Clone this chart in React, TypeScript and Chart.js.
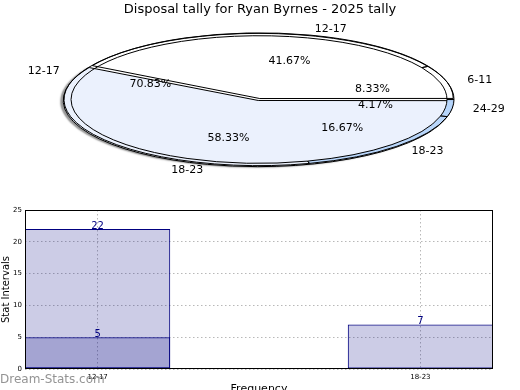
import React, { useEffect, useRef } from "react";
import { Chart, registerables } from "chart.js";
Chart.register(...registerables);

const TITLE = "Disposal tally for Ryan Byrnes - 2025 tally";
// Inner pie (matplotlib order, counter-clockwise from 3 o'clock)
const pieACategories = ["12-17", "18-23"];
const pieAValues = [5, 7];
// Overlay pie
const pieBCategories = ["6-11", "12-17", "18-23", "24-29"];
const pieBValues = [2, 17, 4, 1];
// Bar chart
const barCategories = ["12-17", "18-23"];
const barSeriesA: (number | null)[] = [22, 7];
const barSeriesB: (number | null)[] = [5, null];
const yTickValues = [0, 5, 10, 15, 20, 25];
const X_AXIS_TITLE = "Frequency";
const Y_AXIS_TITLE = "Stat Intervals";
const WATERMARK = "Dream-Stats.com";

const FONT = "'DejaVu Sans', sans-serif";
const RX = 196;
const RY = 66.5;

function ellipsePlugin(shadow: boolean) {
  return {
    id: "ellipse",
    beforeDatasetsDraw(chart: any) {
      const ctx = chart.ctx;
      const el = chart.getDatasetMeta(0).data[0];
      const cx = el.x, cy = el.y;
      ctx.save();
      const base = ctx.getTransform();
      ctx.translate(cx, cy);
      ctx.scale(1, RY / RX);
      ctx.translate(-cx, -cy);
      const proto = CanvasRenderingContext2D.prototype;
      let fills = 0;
      ctx.fill = function (...args: any[]) {
        if (shadow && fills === 0) {
          this.save();
          this.shadowColor = "rgba(0,0,0,0.42)";
          this.shadowBlur = 1.5;
          this.shadowOffsetX = -3;
          this.shadowOffsetY = 1;
          (proto.fill as any).apply(this, args);
          this.restore();
        } else {
          (proto.fill as any).apply(this, args);
        }
        fills++;
      };
      ctx.stroke = function (...args: any[]) {
        const t = this.getTransform();
        this.setTransform(base);
        (proto.stroke as any).apply(this, args);
        this.setTransform(t);
      };
    },
    afterDatasetsDraw(chart: any) {
      const ctx = chart.ctx;
      delete ctx.stroke;
      delete ctx.fill;
      ctx.restore();
    },
  };
}

function pieLabelPlugin(drawTitle: boolean) {
  return {
    id: "pieLabels",
    afterDraw(chart: any) {
      const ctx = chart.ctx;
      const meta = chart.getDatasetMeta(0);
      const vals: number[] = chart.data.datasets[0].data;
      const labels: string[] = chart.data.labels;
      const total = vals.reduce((a, b) => a + b, 0);
      ctx.save();
      ctx.fillStyle = "#000";
      ctx.font = `11px ${FONT}`;
      ctx.textBaseline = "middle";
      meta.data.forEach((arc: any, i: number) => {
        const mid = (arc.startAngle + arc.endAngle) / 2;
        const c = Math.cos(mid), s = Math.sin(mid);
        ctx.textAlign = c >= 0 ? "left" : "right";
        ctx.fillText(labels[i], arc.x + c * RX * 1.1, arc.y + s * RY * 1.1);
        ctx.textAlign = "center";
        ctx.fillText(((vals[i] / total) * 100).toFixed(2) + "%", arc.x + c * RX * 0.6, arc.y + s * RY * 0.6);
      });
      if (drawTitle) {
        ctx.font = `13px ${FONT}`;
        ctx.textAlign = "center";
        ctx.fillText(TITLE, 260, 10);
      }
      ctx.restore();
    },
  };
}

const barExtras = {
  id: "barExtras",
  afterDatasetsDraw(chart: any) {
    const ctx = chart.ctx;
    const a = chart.chartArea;
    ctx.save();
    ctx.strokeStyle = "#000";
    ctx.lineWidth = 1;
    ctx.strokeRect(a.left + 0.5, a.top + 0.5, a.right - a.left - 1, a.bottom - a.top - 1);
    ctx.fillStyle = "#000080";
    ctx.font = `10px ${FONT}`;
    ctx.textAlign = "center";
    ctx.textBaseline = "alphabetic";
    chart.data.datasets.forEach((ds: any, di: number) => {
      const meta = chart.getDatasetMeta(di);
      meta.data.forEach((bar: any, i: number) => {
        const v = ds.data[i].y;
        ctx.fillText(String(v), bar.x, bar.y);
      });
    });
    ctx.restore();
  },
  afterDraw(chart: any) {
    const ctx = chart.ctx;
    ctx.save();
    ctx.fillStyle = "rgba(120,120,120,0.8)";
    ctx.font = `12px ${FONT}`;
    ctx.textAlign = "left";
    ctx.textBaseline = "middle";
    ctx.fillText(WATERMARK, 0, 190);
    ctx.restore();
  },
};

function pieConfig(
  type: string,
  cats: string[],
  vals: number[],
  colors: string[],
  borders: number[],
  radius: number,
  cutout: string | number,
  offset: number,
  shadow: boolean,
  title: boolean
): any {
  const rc = [...cats].reverse();
  const rv = [...vals].reverse();
  return {
    type,
    data: {
      labels: rc,
      datasets: [
        {
          data: rv,
          backgroundColor: [...colors].reverse(),
          borderColor: "#000",
          borderWidth: [...borders].reverse(),
          offset,
        },
      ],
    },
    options: {
      responsive: false,
      animation: false,
      events: [],
      rotation: 90,
      radius,
      cutout,
      layout: { padding: { left: 0, right: 2, top: 9, bottom: 0 } },
      plugins: { legend: { display: false }, tooltip: { enabled: false } },
    },
    plugins: [ellipsePlugin(shadow), pieLabelPlugin(title)],
  };
}

export default function App() {
  const pieARef = useRef<HTMLCanvasElement>(null);
  const pieBRef = useRef<HTMLCanvasElement>(null);
  const barRef = useRef<HTMLCanvasElement>(null);

  useEffect(() => {
    const charts: Chart[] = [];
    charts.push(
      new Chart(
        pieARef.current!,
        pieConfig("pie", pieACategories, pieAValues, ["#ffffff", "#ebf1fd"], [1, 1], 192, 0, 12, true, true)
      )
    );
    charts.push(
      new Chart(
        pieBRef.current!,
        pieConfig(
          "doughnut",
          pieBCategories,
          pieBValues,
          ["rgba(0,0,0,0)", "rgba(0,0,0,0)", "rgba(179,211,251,0.9)", "rgba(179,211,251,0.95)"],
          [1, 1, 1, 1],
          195,
          "96.4%",
          0,
          false,
          false
        )
      )
    );

    const mk = (arr: (number | null)[]) =>
      barCategories
        .map((_, i) => (arr[i] == null ? null : { x: i, y: arr[i] }))
        .filter((p) => p !== null);
    const barStyle = {
      backgroundColor: "rgba(0,0,128,0.2)",
      borderColor: "#000080",
      borderWidth: 1,
      borderSkipped: false,
      grouped: false,
      categoryPercentage: 1,
      barPercentage: 0.45,
    };
    charts.push(
      new Chart(barRef.current!, {
        type: "bar",
        data: {
          datasets: [
            { data: mk(barSeriesA), ...barStyle } as any,
            { data: mk(barSeriesB), ...barStyle } as any,
          ],
        },
        options: {
          responsive: false,
          animation: false,
          events: [],
          layout: { padding: { left: 0, right: 27, top: 20, bottom: 0 } },
          plugins: { legend: { display: false }, tooltip: { enabled: false } },
          scales: {
            x: {
              type: "linear",
              offset: false,
              min: -0.225,
              max: 1.225,
              afterBuildTicks: (s: any) => {
                s.ticks = barCategories.map((_, i) => ({ value: i }));
              },
              afterFit: (s: any) => {
                s.height = 31;
              },
              ticks: {
                callback: (v: any) => barCategories[v] ?? "",
                font: { family: FONT, size: 7 },
                color: "#000",
                padding: 4,
                maxRotation: 0,
                autoSkip: false,
              },
              grid: { color: "#b8b8b8", drawTicks: false, offset: false },
              border: { display: false, dash: [1.5, 2.5] },
              title: { display: true, text: X_AXIS_TITLE, font: { family: FONT, size: 11 }, color: "#000", padding: 4 },
            },
            y: {
              min: 0,
              max: 25,
              afterBuildTicks: (s: any) => {
                s.ticks = yTickValues.map((v) => ({ value: v }));
              },
              afterFit: (s: any) => {
                s.width = 25;
              },
              ticks: { font: { family: FONT, size: 7 }, color: "#000", padding: 3 },
              grid: { color: "#b8b8b8", drawTicks: false },
              border: { display: false, dash: [1.5, 2.5] },
              title: { display: true, text: Y_AXIS_TITLE, font: { family: FONT, size: 10 }, color: "#000", padding: 0 },
            },
          },
        } as any,
        plugins: [barExtras],
      })
    );
    return () => charts.forEach((c) => c.destroy());
  }, []);

  return (
    <div style={{ position: "fixed", left: 0, top: 0, width: 520, height: 390, overflow: "hidden", background: "#fff" }}>
      <canvas ref={pieARef} width={520} height={190} style={{ position: "absolute", left: 0, top: 0 }} />
      <canvas ref={pieBRef} width={520} height={190} style={{ position: "absolute", left: 0, top: 0 }} />
      <canvas ref={barRef} width={520} height={210} style={{ position: "absolute", left: 0, top: 190 }} />
    </div>
  );
}
